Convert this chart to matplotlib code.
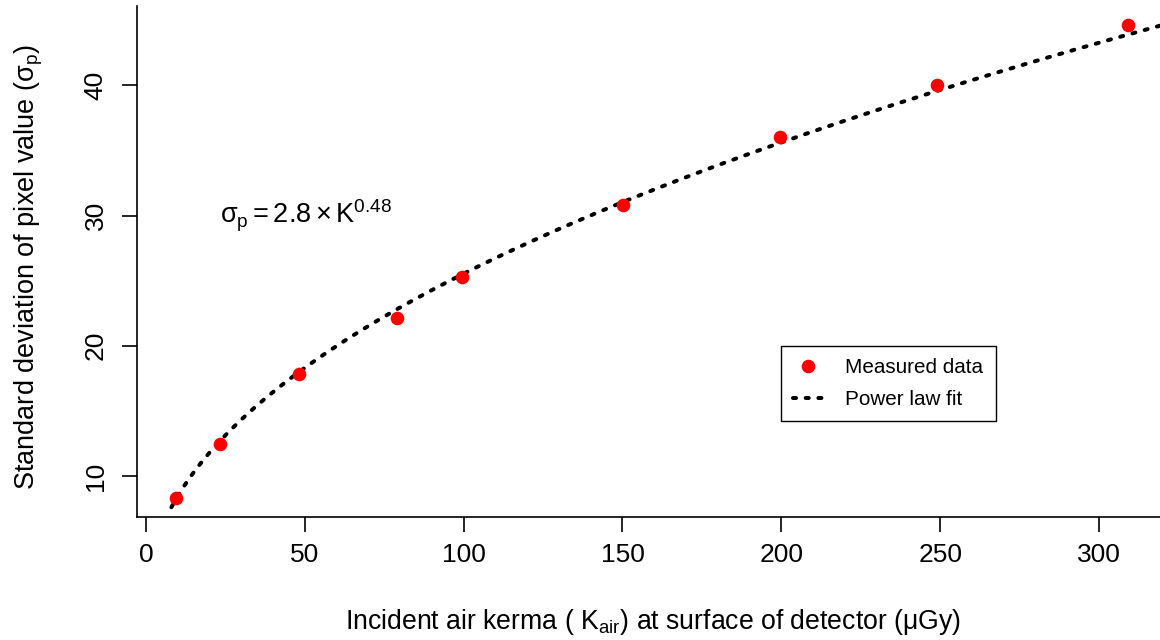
import numpy as np
import matplotlib
matplotlib.use('Agg')
import matplotlib.pyplot as plt

# Data
kerma = [9.5, 23.3, 48.2, 79.1, 99.6, 150.2, 199.6, 249.1, 309.2]
sigma = [8.29, 12.46, 17.83, 22.16, 25.26, 30.84, 36.01, 40.03, 44.64]

# Power law fit parameters (sigma = a * K^b) as shown on the chart
fit_coef = 2.8
fit_exp = 0.48
fit_range = [8, 330]

x_ticks = [0, 50, 100, 150, 200, 250, 300]
y_ticks = [10, 20, 30, 40]

plt.rcParams['font.family'] = ['Liberation Sans', 'DejaVu Sans']
plt.rcParams['mathtext.fontset'] = 'custom'
plt.rcParams['mathtext.rm'] = 'Liberation Sans'
plt.rcParams['mathtext.it'] = 'Liberation Sans'
plt.rcParams['mathtext.sf'] = 'Liberation Sans'
plt.rcParams['mathtext.bf'] = 'Liberation Sans:bold'

fig = plt.figure(figsize=(11.6, 6.4), dpi=100)
ax = fig.add_axes([137 / 1160, 123 / 640, 1023 / 1160, 511 / 640])

k_fit = np.linspace(fit_range[0], fit_range[1], 400)
s_fit = fit_coef * k_fit ** fit_exp

ax.plot(k_fit, s_fit, color='black', lw=2.9, linestyle=(0, (0.75, 2.4)),
        dash_capstyle='round', label='Power law fit', zorder=2)
ax.plot(kerma, sigma, 'o', color='#ff0000', markersize=9.8, markeredgewidth=0,
        label='Measured data', zorder=3)

ax.set_xlim(-2.83, 319.2)
ax.set_ylim(6.85, 46.09)
ax.set_xticks(x_ticks)
ax.set_yticks(y_ticks)

for s in ['top', 'right']:
    ax.spines[s].set_visible(False)
for s in ['left', 'bottom']:
    ax.spines[s].set_linewidth(1.2)

ax.tick_params(axis='both', direction='out', length=11, width=1.2,
               labelsize=19)
ax.tick_params(axis='x', pad=8)
ax.tick_params(axis='y', pad=10)
for lab in ax.get_yticklabels():
    lab.set_rotation(90)
    lab.set_va('center')

ax.set_xlabel(r'Incident air kerma ( K$_{\mathrm{air}}$) at surface of detector ($\mu$Gy)',
              fontsize=19.2, va='center')
ax.set_ylabel(r'Standard deviation of pixel value ($\sigma_{\mathrm{p}}$)',
              fontsize=19.5, va='center')
ax.xaxis.set_label_coords(0.504, -0.2055)
ax.yaxis.set_label_coords(-0.1055, 0.49)

ax.text(23.3, 30.0, r'$\sigma_{\mathrm{p}} = 2.8 \times \mathrm{K}^{0.48}$',
        fontsize=19.5, ha='left', va='center')

handles, labels = ax.get_legend_handles_labels()
leg = ax.legend(handles[::-1], labels[::-1], loc='upper left',
                bbox_to_anchor=(0.6295, 0.3346), borderaxespad=0,
                fontsize=14.9, handlelength=1.45, handletextpad=1.06,
                borderpad=0.6, labelspacing=0.6, fancybox=False,
                framealpha=1, edgecolor='black', numpoints=1)
leg.get_frame().set_linewidth(1.0)

fig.savefig('out.png', dpi=100)
